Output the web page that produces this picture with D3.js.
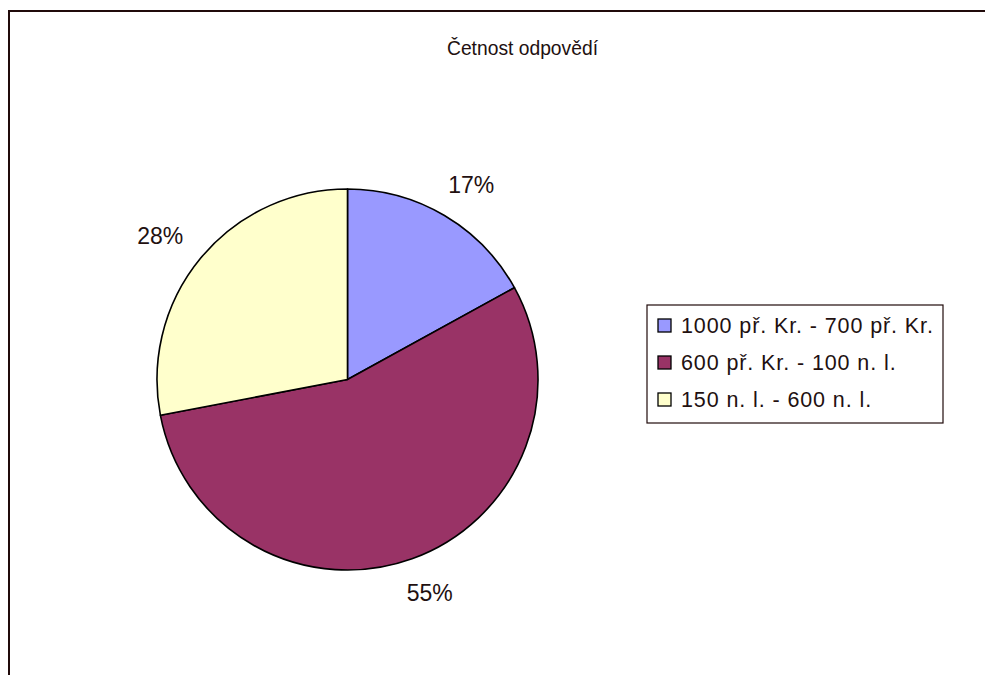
<!DOCTYPE html>
<html>
<head>
<meta charset="utf-8">
<script src="https://cdn.jsdelivr.net/npm/d3@7"></script>
<style>
  body { margin: 0; background: #fff; }
  svg text { font-family: "Liberation Sans", Arial, sans-serif; fill: #221010; }
</style>
</head>
<body>
<svg id="chart" width="985" height="675"></svg>
<script>
var title = 'Četnost odpovědí'
var categories = ['1000 př. Kr. - 700 př. Kr.', '600 př. Kr. - 100 n. l.', '150 n. l. - 600 n. l.']
var values = [17, 55, 28]
var colors = ['#9999ff', '#993366', '#ffffcc']

var width = 985, height = 675
var cx = 347.5, cy = 379.5, radius = 190.5

var svg = d3.select('#chart')

// outer frame, runs past right and bottom edges
svg.append('rect')
    .attr('x', 9).attr('y', 11)
    .attr('width', 1000).attr('height', 700)
    .attr('fill', 'none')
    .attr('stroke', '#200a0a')
    .attr('stroke-width', 2)

svg.append('text')
    .attr('x', 447).attr('y', 55)
    .attr('font-size', 21)
    .attr('textLength', 151)
    .attr('lengthAdjust', 'spacingAndGlyphs')
    .text(title)

var color = d3.scaleOrdinal().domain(categories).range(colors)

var pie = d3.pie().sort(null).value(function(d) { return d.v; })
var data = pie(categories.map(function(c, i) { return {c: c, v: values[i]}; }))
var total = d3.sum(values)

var arc = d3.arc().innerRadius(0).outerRadius(radius)

var g = svg.append('g').attr('transform', 'translate(' + cx + ',' + cy + ')')

g.selectAll('path')
    .data(data)
    .enter()
    .append('path')
    .attr('d', arc)
    .attr('fill', function(d) { return color(d.data.c); })
    .attr('stroke', '#000')
    .attr('stroke-width', 1.6)
    .attr('stroke-linejoin', 'round')

// percent labels, box pushed outward from an anchor circle
var labelR = 218, lw = 50, lh = 17
g.selectAll('text.pct')
    .data(data)
    .enter()
    .append('text')
    .attr('class', 'pct')
    .attr('text-anchor', 'middle')
    .attr('font-size', 23)
    .attr('x', function(d) {
        var a = (d.startAngle + d.endAngle) / 2
        return Math.sin(a) * labelR + lw / 2 * Math.sin(a)
    })
    .attr('y', function(d) {
        var a = (d.startAngle + d.endAngle) / 2
        return -Math.cos(a) * labelR - lh / 2 * Math.cos(a) + lh / 2
    })
    .text(function(d) { return Math.round(d.data.v / total * 100) + '%'; })

// legend
var legend = svg.append('g').attr('transform', 'translate(647,305)')
legend.append('rect')
    .attr('width', 296).attr('height', 118)
    .attr('fill', '#fff')
    .attr('stroke', '#200a0a')
    .attr('stroke-width', 1.2)

var rows = legend.selectAll('g.row')
    .data(categories)
    .enter()
    .append('g')
    .attr('class', 'row')
    .attr('transform', function(d, i) { return 'translate(0,' + (14 + i * 37) + ')'; })

rows.append('rect')
    .attr('x', 11).attr('y', 0)
    .attr('width', 13).attr('height', 13)
    .attr('fill', function(d) { return color(d); })
    .attr('stroke', '#000')
    .attr('stroke-width', 1.3)

rows.append('text')
    .attr('x', 34).attr('y', 14)
    .attr('font-size', 21.5)
    .attr('letter-spacing', 0.9)
    .text(function(d) { return d; })
</script>
</body>
</html>
